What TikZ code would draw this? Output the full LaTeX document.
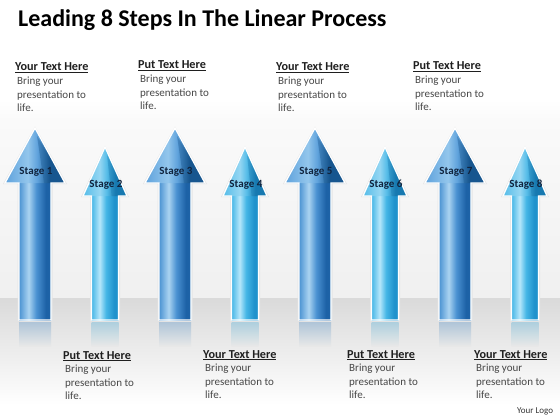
\documentclass[tikz,border=0pt]{standalone}
\usepackage{fontspec}
\setmainfont{Carlito}
\definecolor{oddL}{HTML}{4A92D2}
\definecolor{oddM}{HTML}{AAD3F1}
\definecolor{oddR}{HTML}{1D62A6}
\definecolor{oddHL}{HTML}{5FA2DC}
\definecolor{oddHM}{HTML}{93C6EC}
\definecolor{oddHR}{HTML}{17568F}
\definecolor{evL}{HTML}{45B6E6}
\definecolor{evM}{HTML}{B6E7FA}
\definecolor{evR}{HTML}{2092CC}
\definecolor{evHL}{HTML}{55BCE8}
\definecolor{evHM}{HTML}{95D6F2}
\definecolor{evHR}{HTML}{1779B0}
\definecolor{stagetxt}{HTML}{10233D}
\definecolor{floortop}{HTML}{DADADA}
\definecolor{floormid}{HTML}{E8E8E8}
\definecolor{walltop}{HTML}{FAFAFA}
\definecolor{wallbot}{HTML}{F0F0F0}
\pgfdeclarehorizontalshading{oddshaft}{100bp}{color(0bp)=(oddL); color(25bp)=(oddL); color(40bp)=(oddM); color(52bp)=(oddL); color(67bp)=(oddR); color(72bp)=(oddR); color(75bp)=(oddL); color(100bp)=(oddL)}
\pgfdeclarehorizontalshading{evshaft}{100bp}{color(0bp)=(evL); color(25bp)=(evL); color(40bp)=(evM); color(52bp)=(evL); color(67bp)=(evR); color(72bp)=(evR); color(75bp)=(evL); color(100bp)=(evL)}
\pgfdeclarehorizontalshading{oddhead}{100bp}{color(0bp)=(oddHL); color(25bp)=(oddHL); color(44bp)=(oddHM); color(52bp)=(oddHL); color(62bp)=(oddHR); color(75bp)=(oddHR); color(100bp)=(oddHR)}
\pgfdeclarehorizontalshading{evhead}{100bp}{color(0bp)=(evHL); color(25bp)=(evHL); color(44bp)=(evHM); color(52bp)=(evHL); color(62bp)=(evHR); color(75bp)=(evHR); color(100bp)=(evHR)}
\newcommand{\stagearrow}[8]{%
  % #1 name, #2 cx, #3 tip y, #4 head base y, #5 head half width, #6 shaft half width, #7 odd/ev, #8 label
  \fill[black!10] (#2,#3-1.5) -- (#2+#5+2,#4+1) -- (#2+#6+1.5,#4+1) -- (#2+#6+1.5,321.5) -- (#2-#6-1.5,321.5) -- (#2-#6-1.5,#4+1) -- (#2-#5-2,#4+1) -- cycle;
  \shade[top color=#7L!30!floortop, bottom color=floormid] (#2-#6,322) rectangle (#2+#6,346);
  \shade[shading=#7shaft] (#2-#6,#4-1) rectangle (#2+#6,320);
  \shade[shading=#7head] (#2,#3) -- (#2+#5,#4) -- (#2-#5,#4) -- cycle;
  \fill[#7HR, opacity=0.35] (#2+2,#3+8) -- (#2+#5,#4) -- (#2+#5*0.3,#4) -- cycle;
  \draw[white, line width=1.3pt, line join=miter] (#2,#3) -- (#2+#5,#4) -- (#2+#6,#4) -- (#2+#6,320) -- (#2-#6,320) -- (#2-#6,#4) -- (#2-#5,#4) -- cycle;
  \node[stagest] (#1) at (#2+1,#4-11) {#8};
}
\newcommand{\txtblock}[4]{%
  \node[headst] (#1h) at (#2,#3) {\underline{#4}};
  \node[bodyst] (#1a) at (#2+2,#3+13.5) {Bring your};
  \node[bodyst] (#1b) at (#2+2,#3+27.2) {presentation to};
  \node[bodyst] (#1c) at (#2+2,#3+40.9) {life.};
}
\begin{document}
\begin{tikzpicture}[x=1pt,y=-1pt,
  headst/.style={anchor=base west, inner sep=0pt, font=\fontsize{12.2}{14}\selectfont\bfseries, text=black!88},
  bodyst/.style={anchor=base west, inner sep=0pt, font=\fontsize{11}{13.8}\selectfont, text=black!72},
  stagest/.style={inner sep=0pt, font=\fontsize{11}{13}\selectfont\bfseries, text=stagetxt},
  titlest/.style={anchor=base west, inner sep=0pt, font=\fontsize{24}{28}\selectfont\bfseries, text=black}]
\useasboundingbox (0,0) rectangle (560,420);
% background
\fill[white] (0,0) rectangle (560,110);
\shade[top color=white, bottom color=walltop] (0,100) rectangle (560,120);
\shade[top color=walltop, bottom color=wallbot] (0,120) rectangle (560,298);
\shade[top color=floortop, bottom color=white] (0,298) rectangle (560,405);
\fill[white] (0,405) rectangle (560,420);
% title
\node[titlest] (title) at (18,27) {Leading 8 Steps In The Linear Process};
% arrows
\stagearrow{s1}{35}{128}{183}{30}{16}{odd}{Stage 1}
\stagearrow{s2}{105}{147}{196}{22}{13.5}{ev}{Stage 2}
\stagearrow{s3}{175}{128}{183}{30}{16}{odd}{Stage 3}
\stagearrow{s4}{245}{147}{196}{22}{13.5}{ev}{Stage 4}
\stagearrow{s5}{315}{128}{183}{30}{16}{odd}{Stage 5}
\stagearrow{s6}{385}{147}{196}{22}{13.5}{ev}{Stage 6}
\stagearrow{s7}{455}{128}{183}{30}{16}{odd}{Stage 7}
\stagearrow{s8}{525}{147}{196}{22}{13.5}{ev}{Stage 8}
% text blocks
\txtblock{t1}{15}{71}{Your Text Here}
\txtblock{t2}{138}{69}{Put Text Here}
\txtblock{t3}{276}{71}{Your Text Here}
\txtblock{t4}{413}{70}{Put Text Here}
\txtblock{b1}{63}{359}{Put Text Here}
\txtblock{b2}{203}{358}{Your Text Here}
\txtblock{b3}{347}{358}{Put Text Here}
\txtblock{b4}{474}{358}{Your Text Here}
\node[anchor=base west, inner sep=0pt, font=\fontsize{9}{11}\selectfont, text=black!80] (logo) at (517,413) {Your Logo};
\end{tikzpicture}
\end{document}
